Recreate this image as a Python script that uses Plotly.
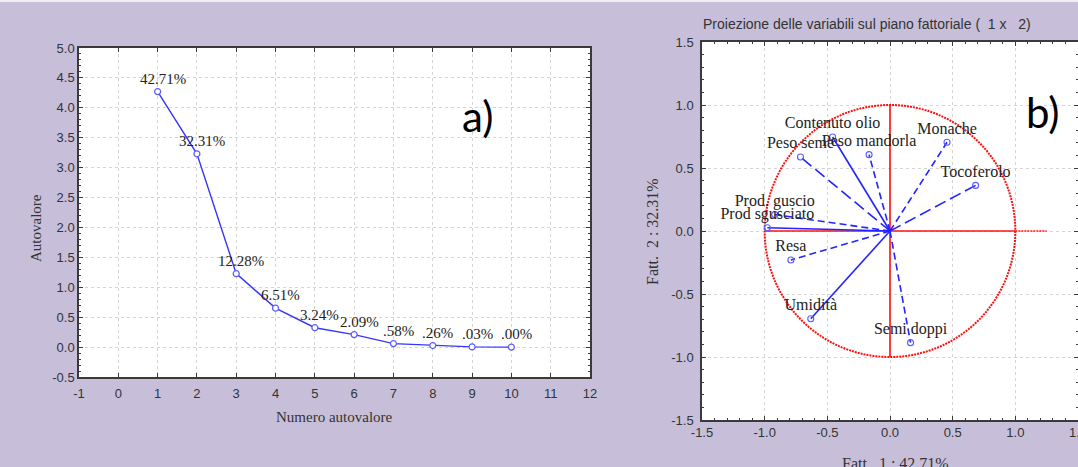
import plotly.graph_objects as go

# ---- scree plot (a) ----
eigen_index = [1, 2, 3, 4, 5, 6, 7, 8, 9, 10]
eigenvalues = [4.271, 3.231, 1.228, 0.651, 0.324, 0.209, 0.058, 0.026, 0.003, 0.000]
variance_labels = ["42.71%", "32.31%", "12.28%", "6.51%", "3.24%",
                   "2.09%", ".58%", ".26%", ".03%", ".00%"]

# ---- variable loadings on factors 1 and 2 (b) ----
variables = ["Contenuto olio", "Peso seme", "Peso mandorla", "Monache", "Tocoferolo",
             "Prod. guscio", "Prod sgusciato", "Resa", "Umidità", "Semi doppi"]
fact1 = [-0.458, -0.714, -0.167, 0.455, 0.683, -0.920, -0.979, -0.791, -0.632, 0.164]
fact2 = [0.746, 0.587, 0.606, 0.704, 0.362, 0.130, 0.026, -0.230, -0.696, -0.886]

# line pattern per vector
vector_dash = ["solid", "12px,5px", "7px,4px", "7px,4px", "12px,5px",
               "7px,4px", "solid", "7px,4px", "solid", "7px,4px"]

BG = "#c7bfda"
AXIS = "#3a3a3a"
TICKFONT = dict(family="Liberation Sans, Arial", size=13, color="#333333")
SERIF = "Liberation Serif, Times New Roman"
BLUE = "#2323ff"

fig = go.Figure()

# scree line
fig.add_trace(go.Scatter(
    x=eigen_index, y=eigenvalues, mode="lines+markers",
    line=dict(color="#3535ff", width=1.4),
    marker=dict(symbol="circle", size=6, color="white",
                line=dict(color="#5b5bff", width=1.2)),
    xaxis="x", yaxis="y", showlegend=False, hoverinfo="skip"))

for xi, yi, lab in zip(eigen_index, eigenvalues, variance_labels):
    fig.add_annotation(x=xi, y=yi, xref="x", yref="y", text=lab, showarrow=False,
                       xanchor="center", yanchor="middle", xshift=5, yshift=13,
                       font=dict(family=SERIF, size=15, color="#222222"))

# loading vectors
for name, fx, fy, dsh in zip(variables, fact1, fact2, vector_dash):
    fig.add_trace(go.Scatter(
        x=[0, fx], y=[0, fy], mode="lines",
        line=dict(color=BLUE, width=1.6, dash=dsh),
        xaxis="x2", yaxis="y2", showlegend=False, hoverinfo="skip"))

fig.add_trace(go.Scatter(
    x=fact1, y=fact2, mode="markers+text", text=variables,
    textposition="top center",
    textfont=dict(family=SERIF, size=16, color="#222222"),
    marker=dict(symbol="circle-open", size=6, color="#5b5bff",
                line=dict(width=1.1)),
    xaxis="x2", yaxis="y2", showlegend=False, hoverinfo="skip"))

# unit circle and factor axes
fig.add_shape(type="circle", xref="x2", yref="y2", x0=-1, y0=-1, x1=1, y1=1,
              line=dict(color="#ff1010", width=2, dash="2px,1px"), layer="between")
fig.add_shape(type="line", xref="x2", yref="y2", x0=-1, y0=0, x1=1, y1=0,
              line=dict(color="#ff1010", width=1.6), layer="between")
fig.add_shape(type="line", xref="x2", yref="y2", x0=1, y0=0, x1=1.25, y1=0,
              line=dict(color="#ff1010", width=1.6, dash="2px,1px"), layer="between")
fig.add_shape(type="line", xref="x2", yref="y2", x0=0, y0=-1, x1=0, y1=1,
              line=dict(color="#ff1010", width=1.6), layer="between")

W, H = 1078, 467


def px_x(p):
    return p / W


def px_y(p):
    return 1 - p / H


def axis_common(**kw):
    d = dict(showline=True, linecolor=AXIS, linewidth=1.5, mirror="ticks",
             ticks="inside", ticklen=4, tickcolor=AXIS, tickwidth=1,
             showgrid=True, gridcolor="#d4d4d4", griddash="dot", gridwidth=1,
             zeroline=False, tickfont=TICKFONT, ticklabeloverflow="allow",
             automargin=False)
    d.update(kw)
    return d


sx_vals = list(range(-1, 13))
sy_vals = [-0.5 + 0.5 * i for i in range(12)]
lx_vals = [-1.5 + 0.5 * i for i in range(7)]

fig.update_layout(
    width=W, height=H, autosize=False,
    margin=dict(l=0, r=0, t=0, b=0, pad=0, autoexpand=False),
    paper_bgcolor=BG, plot_bgcolor="white",
    xaxis=axis_common(domain=[px_x(79), px_x(590)], range=[-1, 12], anchor="y",
                      tickvals=sx_vals, ticktext=[str(v) for v in sx_vals],
                      ticklabelstandoff=4),
    yaxis=axis_common(domain=[px_y(377), px_y(48)], range=[-0.5, 5.0], anchor="x",
                      tickvals=sy_vals, ticktext=[f"{v:.1f}" for v in sy_vals],
                      minor=dict(ticks="inside", ticklen=2, dtick=0.1, tickcolor=AXIS,
                                 showgrid=False)),
    xaxis2=axis_common(domain=[px_x(702), 1.0], range=[-1.5, 1.5], anchor="y2",
                       tickvals=lx_vals, ticktext=[f"{v:.1f}" for v in lx_vals],
                       minor=dict(ticks="inside", ticklen=2, dtick=0.1, tickcolor=AXIS,
                                  showgrid=False)),
    yaxis2=axis_common(domain=[px_y(420), px_y(42)], range=[-1.5, 1.5], anchor="x2",
                       tickvals=lx_vals, ticktext=[f"{v:.1f}" for v in lx_vals],
                       ticklabelstandoff=4,
                       minor=dict(ticks="inside", ticklen=2, dtick=0.1, tickcolor=AXIS,
                                  showgrid=False)),
)


def paper_text(x, y, text, font, angle=0):
    fig.add_annotation(x=px_x(x), y=px_y(y), xref="paper", yref="paper",
                       xanchor="center", yanchor="middle", text=text,
                       showarrow=False, textangle=angle, font=font)


# axis titles, panel title and panel letters
paper_text(334, 417, "Numero autovalore", dict(family=SERIF, size=15, color="#333333"))
paper_text(36, 228, "Autovalore", dict(family=SERIF, size=15, color="#333333"), -90)
paper_text(867, 24, "Proiezione delle variabili sul piano fattoriale (  1 x   2)",
           dict(family="Liberation Sans, Arial", size=14, color="#333333"))
paper_text(652, 232, "Fatt.  2 : 32.31%", dict(family=SERIF, size=16, color="#333333"), -90)
paper_text(895, 463, "Fatt.  1 : 42.71%", dict(family=SERIF, size=16, color="#333333"))
paper_text(477, 116, "a)", dict(family="Lato, Open Sans", size=42, color="black"))
paper_text(1043, 112, "b)", dict(family="Lato, Open Sans", size=42, color="black"))

# thin light strip along the top edge
fig.add_shape(type="rect", xref="paper", yref="paper", x0=0, x1=1,
              y0=px_y(2), y1=1, fillcolor="#eeeef2", line=dict(width=0), layer="above")

fig.write_html("out.html",
               post_script="document.documentElement.style.margin='0px';"
                           "document.body.style.margin='0px';"
                           "document.body.style.overflow='hidden';")
